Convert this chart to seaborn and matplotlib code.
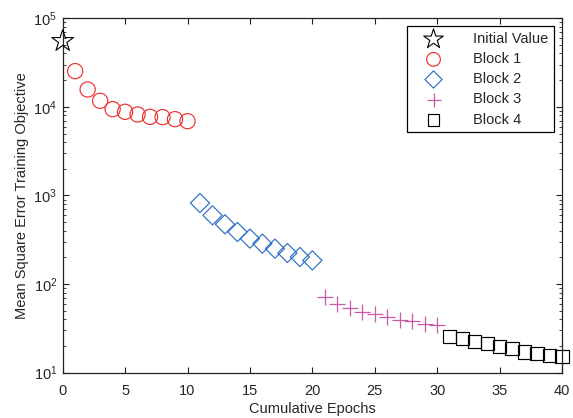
import matplotlib
matplotlib.use("Agg")
import matplotlib.pyplot as plt
import seaborn as sns
import numpy as np
from matplotlib.ticker import LogLocator, NullFormatter

sns.set_style("ticks")
plt.rcParams['font.family'] = ['Liberation Sans', 'DejaVu Sans']

init_x = [0]
init_y = [55200]
b1_x = list(range(1, 11))
b1_y = [25300, 15700, 11700, 9420, 8790, 8200, 7710, 7650, 7260, 6890]
b2_x = list(range(11, 21))
b2_y = [822, 597, 473, 387, 326, 286, 251, 224, 202, 185]
b3_x = list(range(21, 31))
b3_y = [71.3, 59, 54.1, 48.3, 45.5, 42.4, 39.6, 38.2, 35.7, 34.8]
b4_x = list(range(31, 41))
b4_y = [25.8, 24.1, 22.5, 21.2, 19.8, 18.6, 17.1, 16.6, 15.6, 15.2]

fig = plt.figure(figsize=(5.73, 4.18), dpi=100)
ax = fig.add_axes([0.1094, 0.1084, 0.8714, 0.848])

kw = dict(clip_on=False, zorder=3, ax=ax)
sns.scatterplot(x=init_x, y=init_y, marker='*', s=270, fc='none', ec='black', linewidth=0.8, label='Initial Value', **kw)
sns.scatterplot(x=b1_x, y=b1_y, marker='o', s=120, fc='none', ec='#ee3030', linewidth=0.85, label='Block 1', **kw)
sns.scatterplot(x=b2_x, y=b2_y, marker='D', s=95, fc='none', ec='#2c6ec4', linewidth=0.85, label='Block 2', **kw)
sns.scatterplot(x=b3_x, y=b3_y, marker='+', s=125, color='#c95aa8', linewidth=0.9, label='Block 3', **kw)
sns.scatterplot(x=b4_x, y=b4_y, marker='s', s=90, fc='none', ec='black', linewidth=0.85, label='Block 4', **kw)

ax.set_yscale('log')
ax.set_xlim(0, 40)
ax.set_ylim(10, 1e5)
ax.set_xticks([0, 5, 10, 15, 20, 25, 30, 35, 40])
ax.yaxis.set_major_locator(LogLocator(base=10, numticks=10))
ax.yaxis.set_minor_locator(LogLocator(base=10, subs=np.arange(2, 10), numticks=20))
ax.yaxis.set_minor_formatter(NullFormatter())
ax.tick_params(which='both', direction='in', top=True, right=True, labelsize=10.5, color='#222222')
ax.tick_params(axis='x', which='major', length=4, pad=8)
ax.tick_params(axis='y', which='major', length=4, pad=4)
ax.tick_params(which='minor', length=2.5)
for s in ax.spines.values():
    s.set_visible(True)
    s.set_color('#222222')
    s.set_linewidth(0.9)
    s.set_zorder(2)
ax.set_xlabel('Cumulative Epochs', fontsize=10.5, labelpad=3)
ax.set_ylabel('Mean Square Error Training Objective', fontsize=10.5, labelpad=3)

leg = ax.legend(loc='upper right', fontsize=10.5, frameon=True, fancybox=False,
                edgecolor='black', framealpha=1, borderpad=0.4, labelspacing=0.42,
                handlelength=2.8, handletextpad=1.3, borderaxespad=0.55,
                markerscale=0.9)
leg.get_frame().set_linewidth(0.9)
leg.set_zorder(5)

fig.savefig('out.png', dpi=100)
